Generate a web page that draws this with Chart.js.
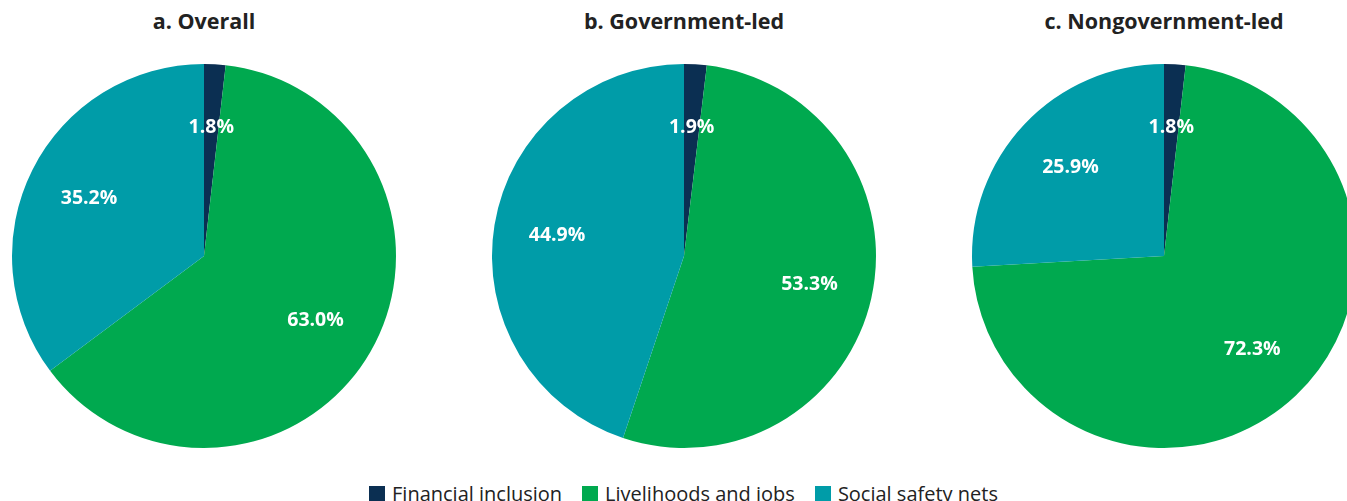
<!DOCTYPE html>
<html>
<head>
<meta charset="utf-8">
<script src="https://cdn.jsdelivr.net/npm/chart.js@4"></script>
<style>
    body { margin: 0; width: 1347px; height: 501px; overflow: hidden; background: #fff; font-family: "Open Sans", "Noto Sans", sans-serif; position: relative; }
    .title { position: absolute; top: 6px; width: 400px; text-align: center; font-weight: bold; font-size: 21.5px; color: #222; }
    .pie { position: absolute; top: 56px; width: 400px; height: 400px; }
    #legend { position: absolute; left: 20px; right: 0; top: 480px; display: flex; justify-content: center; font-size: 20px; color: #222; }
    #legend span.item { display: flex; align-items: center; margin: 0 10px; }
    #legend span.box { width: 16px; height: 16px; margin-right: 7px; display: inline-block; }
</style>
</head>
<body>
<div id="charts"></div>
<div id="legend"></div>
<script>
    // 数据
    const categories = ['Financial inclusion', 'Livelihoods and jobs', 'Social safety nets'];
    const panelTitles = ['a. Overall', 'b. Government-led', 'c. Nongovernment-led'];
    const overallValues = [1.8, 63.0, 35.2];
    const governmentValues = [1.9, 53.3, 44.9];
    const nongovernmentValues = [1.8, 72.3, 25.9];
    const colors = ['#0b2f52', '#00a94f', '#009ca8'];

    const panels = [overallValues, governmentValues, nongovernmentValues];
    const centersX = [204, 684, 1164];

    // 扇区内的百分比标签
    const sliceLabels = {
        id: 'sliceLabels',
        afterDatasetsDraw(chart) {
            const ctx = chart.ctx;
            const meta = chart.getDatasetMeta(0);
            const values = chart.data.datasets[0].data;
            ctx.save();
            ctx.fillStyle = '#fff';
            ctx.font = 'bold 19.5px "Open Sans", "Noto Sans", sans-serif';
            ctx.textAlign = 'center';
            ctx.textBaseline = 'middle';
            meta.data.forEach((arc, i) => {
                const p = arc.getProps(['x', 'y', 'startAngle', 'endAngle', 'outerRadius'], true);
                const mid = (p.startAngle + p.endAngle) / 2;
                const r = p.outerRadius * 0.67;
                ctx.fillText(values[i].toFixed(1) + '%', p.x + Math.cos(mid) * r, p.y + Math.sin(mid) * r);
            });
            ctx.restore();
        }
    };

    const holder = document.getElementById('charts');
    panels.forEach((values, k) => {
        const t = document.createElement('div');
        t.className = 'title';
        t.style.left = (centersX[k] - 200) + 'px';
        t.textContent = panelTitles[k];
        document.body.appendChild(t);

        const box = document.createElement('div');
        box.className = 'pie';
        box.style.left = (centersX[k] - 200) + 'px';
        const canvas = document.createElement('canvas');
        box.appendChild(canvas);
        holder.appendChild(box);

        new Chart(canvas, {
            type: 'pie',
            data: {
                labels: categories,
                datasets: [{
                    data: values,
                    backgroundColor: colors,
                    borderWidth: 0
                }]
            },
            options: {
                responsive: true,
                maintainAspectRatio: false,
                animation: false,
                layout: { padding: 8 },
                plugins: {
                    legend: { display: false },
                    tooltip: { enabled: false }
                }
            },
            plugins: [sliceLabels]
        });
    });

    // 图例
    const legendEl = document.getElementById('legend');
    categories.forEach((name, i) => {
        const item = document.createElement('span');
        item.className = 'item';
        item.innerHTML = '<span class="box" style="background:' + colors[i] + '"></span>' + name;
        legendEl.appendChild(item);
    });
</script>
</body>
</html>
